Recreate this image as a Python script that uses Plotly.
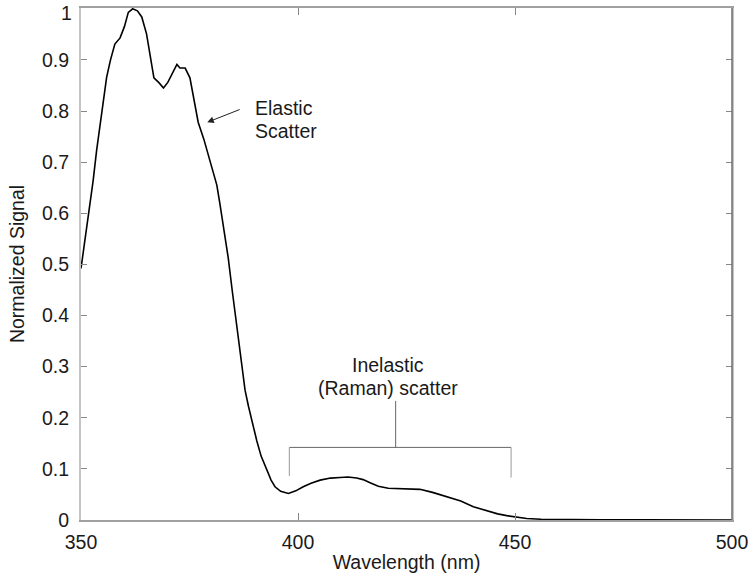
import plotly.graph_objects as go

wavelength = [350.0, 351.0, 351.7, 352.8, 353.6, 354.8, 355.9, 356.8, 357.8, 359.0,
              360.0, 360.9, 361.9, 363.0, 364.0, 365.1, 366.0, 366.8, 368.0, 369.0,
              370.0, 371.0, 372.1, 372.8, 374.0, 375.1, 376.0, 377.0, 378.3, 379.7,
              380.6, 381.3, 382.0, 382.9, 383.9, 384.9, 386.0, 386.9, 387.8, 388.6,
              389.3, 390.5, 391.5, 392.8, 393.8, 394.7, 396.0, 397.8, 399.5, 401.2,
              403.0, 405.1, 407.5, 409.7, 411.5, 413.5, 415.0, 416.6, 418.5, 420.8,
              424.0, 428.1, 431.0, 434.3, 437.5, 440.4, 443.5, 446.0, 448.1, 450.0,
              452.7, 456.0, 460.4, 470.0, 480.0, 490.0, 500.0]
signal = [0.492, 0.55, 0.592, 0.664, 0.723, 0.80, 0.866, 0.90, 0.931, 0.943,
          0.965, 0.993, 1.0, 0.996, 0.984, 0.951, 0.905, 0.865, 0.855, 0.845,
          0.856, 0.874, 0.891, 0.884, 0.884, 0.865, 0.825, 0.778, 0.745, 0.703,
          0.680, 0.655, 0.619, 0.57, 0.514, 0.445, 0.372, 0.315, 0.254, 0.222,
          0.195, 0.155, 0.125, 0.098, 0.078, 0.065, 0.056, 0.052, 0.057, 0.065,
          0.072, 0.078, 0.082, 0.083, 0.084, 0.082, 0.079, 0.073, 0.066, 0.062,
          0.061, 0.060, 0.054, 0.046, 0.037, 0.026, 0.018, 0.012, 0.0085, 0.006,
          0.003, 0.0015, 0.0008, 0.0004, 0.0002, 0.0001, 0.0]

x_ticks = [350, 400, 450, 500]
x_tick_labels = ["350", "400", "450", "500"]
y_ticks = [0, 0.1, 0.2, 0.3, 0.4, 0.5, 0.6, 0.7, 0.8, 0.9, 1.0]
y_tick_labels = ["0", "0.1", "0.2", "0.3", "0.4", "0.5", "0.6", "0.7", "0.8", "0.9", "1"]

FONT = "Liberation Sans, Arial, sans-serif"
FS = 19.5
TXT = "#1a1a1a"

# top label ("1") is drawn as an annotation nudged down so it stays inside the page
axis_labels = y_tick_labels[:-1] + [""]

fig = go.Figure()
fig.add_trace(go.Scatter(x=wavelength, y=signal, mode="lines",
                         line=dict(color="black", width=1.6), showlegend=False,
                         hoverinfo="skip", cliponaxis=False))

fig.update_layout(
    width=756, height=577,
    margin=dict(l=81, r=24, t=8, b=57),
    paper_bgcolor="white", plot_bgcolor="white",
    font=dict(family=FONT, size=FS, color=TXT),
    xaxis=dict(range=[350, 500], tickvals=x_ticks, ticktext=x_tick_labels,
               ticks="inside", ticklen=7, tickcolor="#888", tickwidth=1,
               showline=True, linecolor="#a0a0a0", linewidth=1.5, mirror="ticks",
               showgrid=False, zeroline=False, automargin=False,
               ticklabelstandoff=4,
               title=dict(text="Wavelength (nm)", standoff=3,
                          font=dict(family=FONT, size=FS, color=TXT))),
    yaxis=dict(range=[0, 1.0015], tickvals=y_ticks, ticktext=axis_labels,
               ticks="inside", ticklen=6, tickcolor="#888", tickwidth=1,
               showline=True, linecolor="#c4c4c4", linewidth=2, mirror="ticks",
               showgrid=False, zeroline=False, automargin=False,
               ticklabelstandoff=6,
               title=dict(text="Normalized Signal", standoff=12,
                          font=dict(family=FONT, size=FS, color=TXT))),
)

fig.add_annotation(x=0, xref="paper", y=y_ticks[-1], yref="y", text=y_tick_labels[-1],
                   showarrow=False, xanchor="right", yanchor="middle",
                   xshift=-7, yshift=-4, font=dict(size=FS, color=TXT))

# darker right frame edge
fig.add_shape(type="line", xref="paper", yref="paper", x0=1, x1=1, y0=0, y1=1,
              line=dict(color="#707070", width=1.5))

# Elastic scatter label and arrow
fig.add_annotation(x=389.6, y=0.805, text="Elastic", showarrow=False,
                   xanchor="left", yanchor="middle", font=dict(size=FS, color=TXT))
fig.add_annotation(x=389.6, y=0.760, text="Scatter", showarrow=False,
                   xanchor="left", yanchor="middle", font=dict(size=FS, color=TXT))
fig.add_annotation(x=379.1, y=0.778, ax=386.9, ay=0.804, axref="x", ayref="y",
                   text="", showarrow=True, arrowhead=2, arrowsize=1.3,
                   arrowwidth=1, arrowcolor="#222")

# Inelastic bracket
bcol = "#666666"
fig.add_shape(type="line", x0=398.0, x1=449.1, y0=0.142, y1=0.142, line=dict(color=bcol, width=1))
fig.add_shape(type="line", x0=398.0, x1=398.0, y0=0.142, y1=0.086, line=dict(color="#999", width=1))
fig.add_shape(type="line", x0=449.1, x1=449.1, y0=0.142, y1=0.083, line=dict(color="#999", width=1))
fig.add_shape(type="line", x0=422.5, x1=422.5, y0=0.142, y1=0.233, line=dict(color=bcol, width=1))
fig.add_annotation(x=420.7, y=0.303, text="Inelastic", showarrow=False,
                   xanchor="center", yanchor="middle", font=dict(size=FS, color=TXT))
fig.add_annotation(x=420.7, y=0.258, text="(Raman) scatter", showarrow=False,
                   xanchor="center", yanchor="middle", font=dict(size=FS, color=TXT))

fig.write_html("out.html")
